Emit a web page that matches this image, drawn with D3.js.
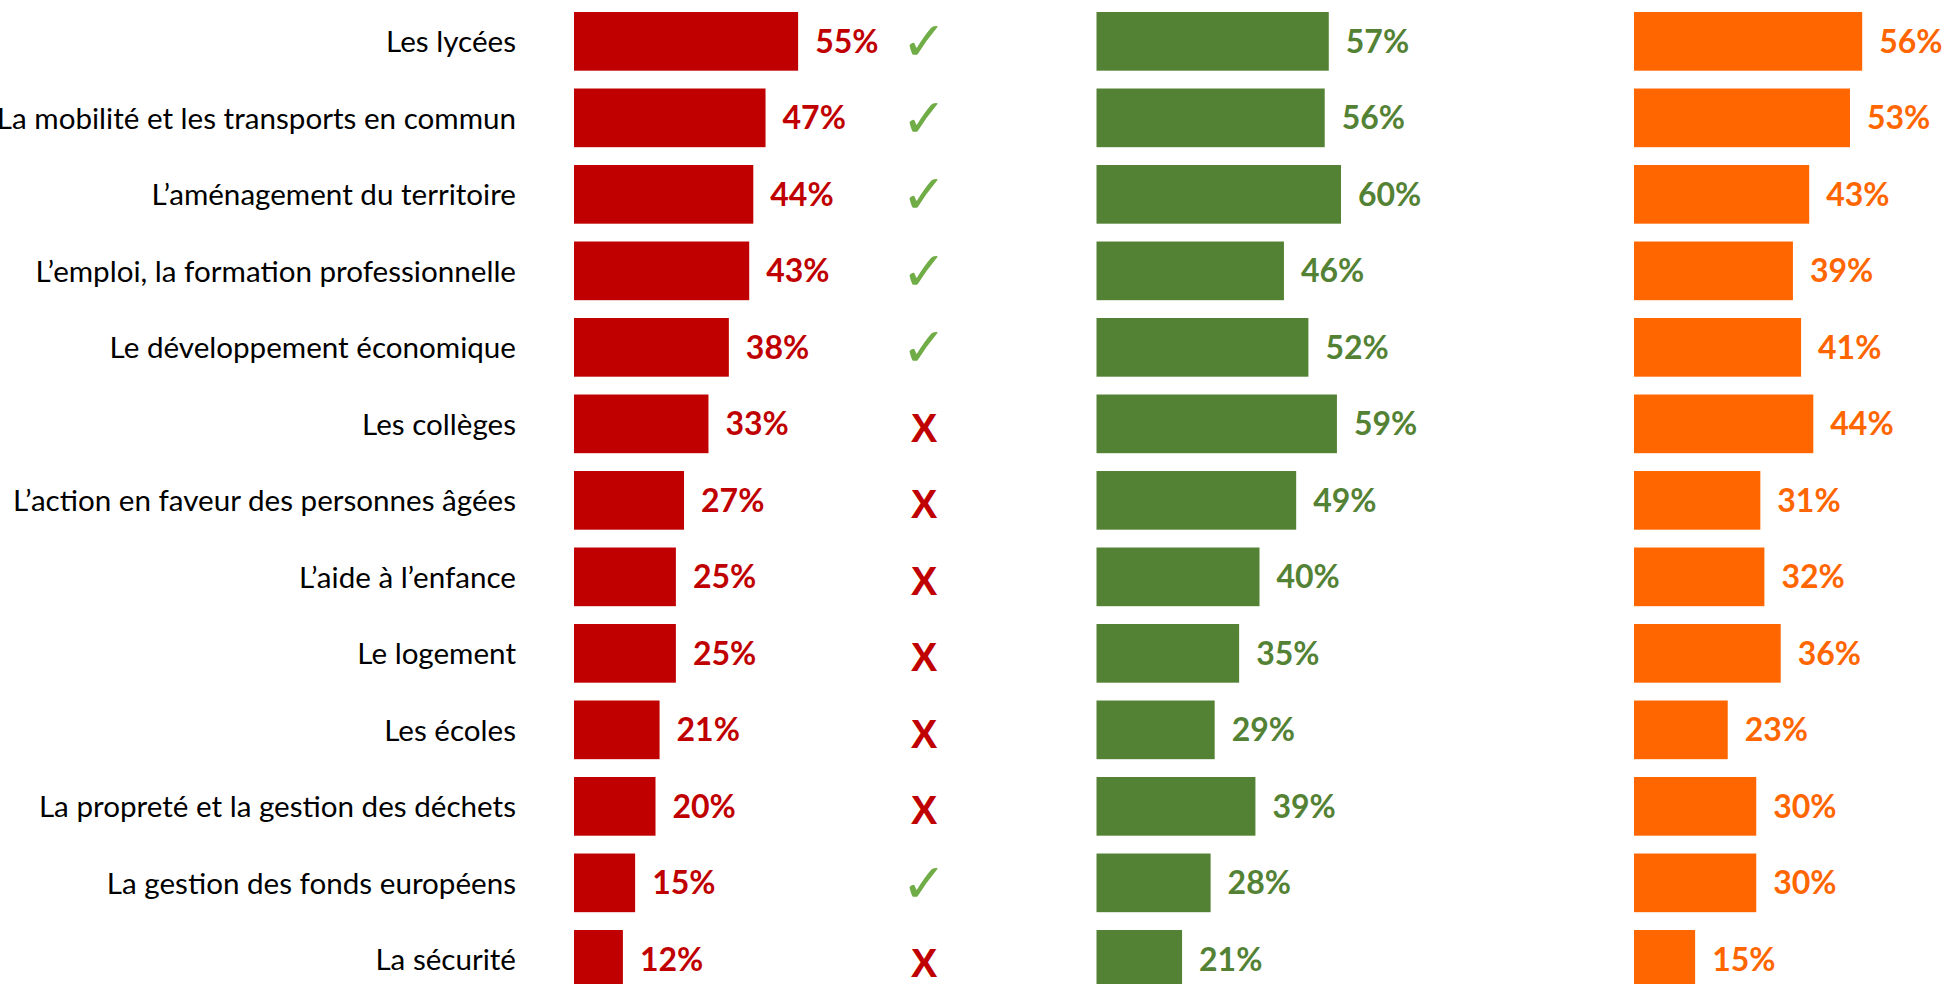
<!DOCTYPE html>
<html>
<head>
<meta charset="utf-8">
<script src="https://cdn.jsdelivr.net/npm/d3@7"></script>
<style>
  html, body { margin: 0; padding: 0; background: #fff; overflow: hidden; }
  svg { display: block; }
</style>
</head>
<body>
<div id="chart"></div>
<script>
// données
const categories = [
  "Les lycées",
  "La mobilité et les transports en commun",
  "L’aménagement du territoire",
  "L’emploi, la formation professionnelle",
  "Le développement économique",
  "Les collèges",
  "L’action en faveur des personnes âgées",
  "L’aide à l’enfance",
  "Le logement",
  "Les écoles",
  "La propreté et la gestion des déchets",
  "La gestion des fonds européens",
  "La sécurité"
];
const redValues    = [55, 47, 44, 43, 38, 33, 27, 25, 25, 21, 20, 15, 12];
const greenValues  = [57, 56, 60, 46, 52, 59, 49, 40, 35, 29, 39, 28, 21];
const orangeValues = [56, 53, 43, 39, 41, 44, 31, 32, 36, 23, 30, 30, 15];
const marks = ["ok", "ok", "ok", "ok", "ok", "no", "no", "no", "no", "no", "no", "ok", "no"];

const W = 1947, H = 984;
const svg = d3.select("#chart").append("svg").attr("width", W).attr("height", H);

const step = 76.5;
const y0 = 3.1;
const y = d3.scaleBand()
  .domain(categories)
  .range([y0, y0 + step * categories.length])
  .paddingInner(0.233)
  .paddingOuter(0.1165);

const x = d3.scaleLinear().domain([0, 100]).range([0, 407.5]);

const font = "Lato, 'Liberation Sans', Arial, sans-serif";

// libellés
svg.append("g").selectAll("text")
  .data(categories)
  .enter().append("text")
  .attr("x", 516)
  .attr("y", d => y(d) + y.bandwidth() / 2 + 11)
  .attr("text-anchor", "end")
  .style("font-family", font)
  .style("font-size", "29.6px")
  .attr("fill", "#000")
  .text(d => d);

const series = [
  {values: redValues, x0: 574, color: "#C00000"},
  {values: greenValues, x0: 1096.5, color: "#548235"},
  {values: orangeValues, x0: 1634, color: "#FF6600"}
];

series.forEach(s => {
  let g = svg.append("g").attr("transform", `translate(${s.x0},0)`);
  g.selectAll("rect")
    .data(s.values)
    .enter().append("rect")
    .attr("x", 0)
    .attr("y", (d, i) => y(categories[i]))
    .attr("width", d => x(d))
    .attr("height", y.bandwidth())
    .attr("fill", s.color);
  g.selectAll("text")
    .data(s.values)
    .enter().append("text")
    .attr("x", d => x(d) + 17)
    .attr("y", (d, i) => y(categories[i]) + y.bandwidth() / 2 + 11.5)
    .style("font-family", font)
    .style("font-size", "32px")
    .style("font-weight", "bold")
    .attr("fill", s.color)
    .text(d => d + "%");
});

// coches et croix
svg.append("g").selectAll("text")
  .data(marks)
  .enter().append("text")
  .attr("x", 924)
  .attr("y", (d, i) => y(categories[i]) + y.bandwidth() / 2 + (d === "ok" ? 19 : 18))
  .attr("text-anchor", "middle")
  .style("font-family", d => d === "ok" ? "'DejaVu Sans', sans-serif" : "'Liberation Sans', Arial, sans-serif")
  .style("font-size", d => d === "ok" ? "54px" : "40px")
  .style("font-weight", "bold")
  .attr("fill", d => d === "ok" ? "#70AD47" : "#C00000")
  .text(d => d === "ok" ? "✓" : "X");
</script>
</body>
</html>
